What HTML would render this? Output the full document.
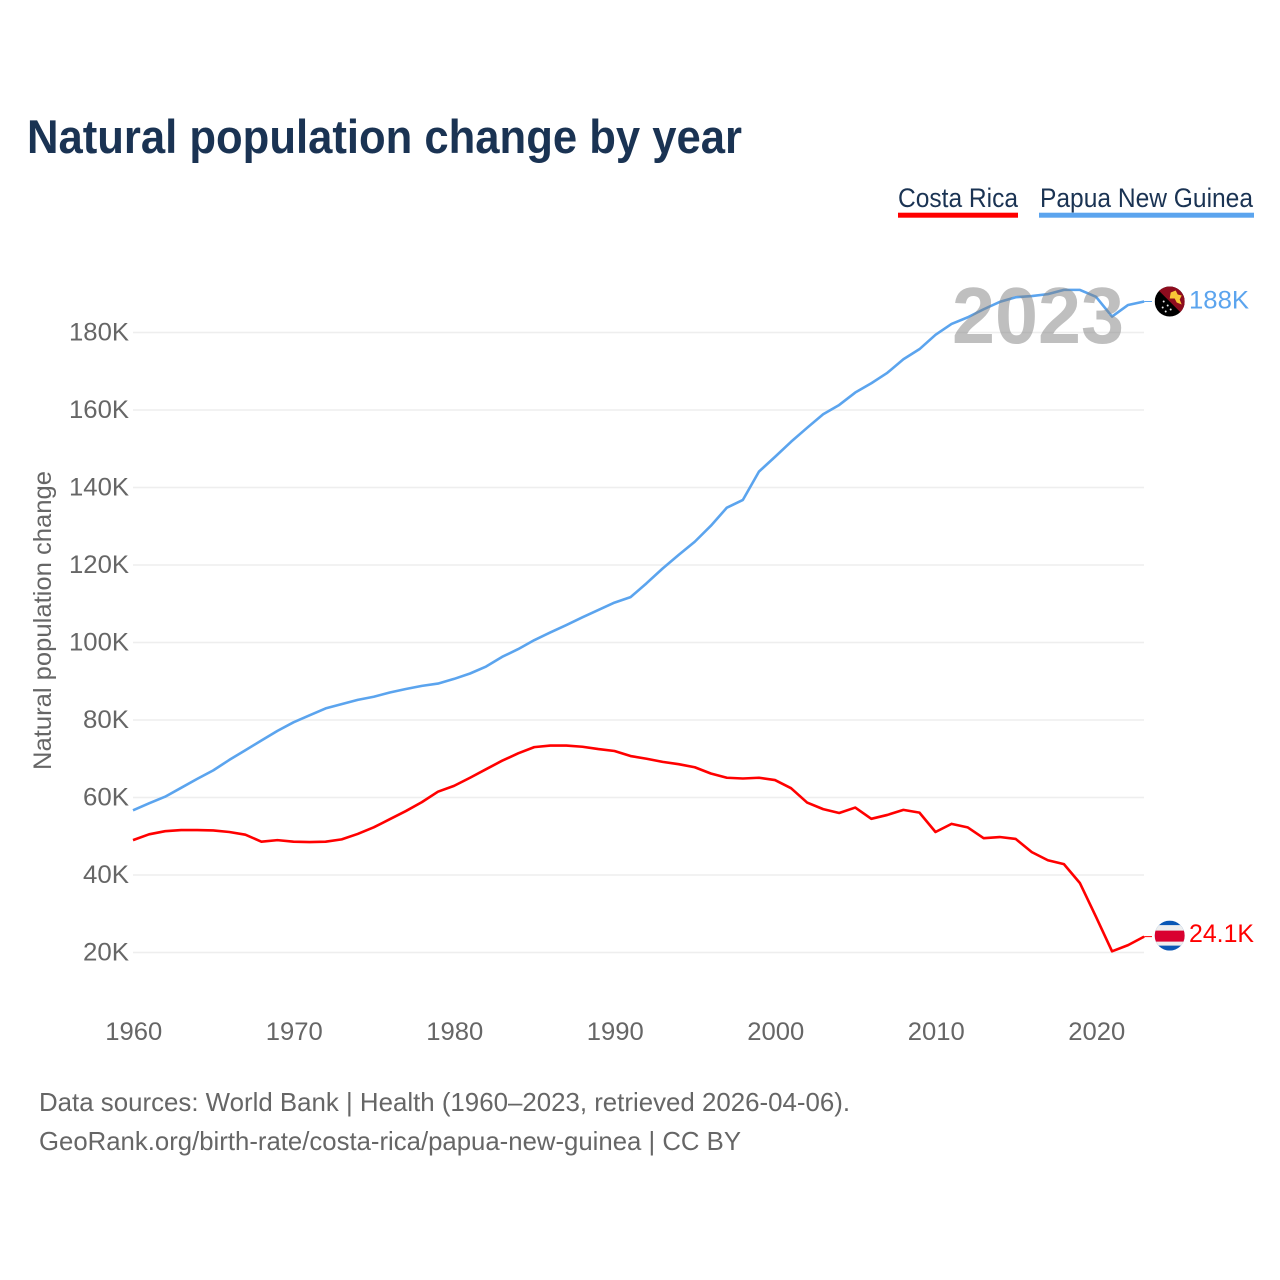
<!DOCTYPE html>
<html lang="en">
<head>
<meta charset="utf-8">
<title>Natural population change by year</title>
<style>
html,body{margin:0;padding:0;background:#fff;width:1280px;height:1280px;overflow:hidden}
svg{display:block}
text{font-family:"Liberation Sans",sans-serif}
</style>
</head>
<body>
<svg id="chart" xmlns="http://www.w3.org/2000/svg" width="1280" height="1280" viewBox="0 0 1280 1280">
  <defs>
    <clipPath id="clip-flag"><circle cx="0" cy="0" r="15"></circle></clipPath>
  </defs>
  <rect width="1280" height="1280" fill="#fff"></rect>
  <text x="27" y="153" font-size="47" font-weight="700" fill="#1a3353" textLength="715" lengthAdjust="spacingAndGlyphs">Natural population change by year</text>

  <g>
    <text x="898" y="207" font-size="27" fill="#1a3353" textLength="120" lengthAdjust="spacingAndGlyphs">Costa Rica</text>
    <rect x="898" y="212.7" width="120" height="5" fill="#ff0000"></rect>
  </g>
  <g>
    <text x="1040" y="207" font-size="27" fill="#1a3353" textLength="213" lengthAdjust="spacingAndGlyphs">Papua New Guinea</text>
    <rect x="1039" y="212.7" width="215" height="5" fill="#5ba4ee"></rect>
  </g>

  <g id="grid"></g>
  <g id="y-ticks"></g>
  <g id="x-ticks"></g>
  <text transform="translate(51,770) rotate(-90)" font-size="25" fill="#666" textLength="299" lengthAdjust="spacingAndGlyphs">Natural population change</text>
  <g id="series"></g>
  <text id="year-watermark" x="952" y="343" font-size="80" font-weight="700" fill="#808080" fill-opacity="0.5" textLength="172" lengthAdjust="spacingAndGlyphs">2023</text>

  <g id="flag-png">
    <g clip-path="url(#clip-flag)">
      <rect x="-15" y="-15" width="30" height="30" fill="#000"></rect>
      <polygon points="-15,-15 15,-15 15,15" fill="#8e0c1e"></polygon>
      <polygon points="1,-9 6,-11 8,-7 12,-6 10,-2 12,3 7,1 5,-3 0,-3" fill="#f8c537"></polygon>
      <circle cx="-6" cy="0" r="1" fill="#eee"></circle>
      <circle cx="-2" cy="4" r="1" fill="#eee"></circle>
      <circle cx="-7" cy="6" r="1" fill="#eee"></circle>
      <circle cx="-4" cy="10" r="1" fill="#eee"></circle>
      <circle cx="1" cy="8" r="1" fill="#eee"></circle>
    </g>
  </g>
  <g id="flag-cr">
    <g clip-path="url(#clip-flag)">
      <rect x="-15" y="-15" width="30" height="30" fill="#0a57b5"></rect>
      <rect x="-15" y="-10.5" width="30" height="20.5" fill="#eeeeee"></rect>
      <rect x="-15" y="-5" width="30" height="11" fill="#d9002f"></rect>
    </g>
  </g>
  <text id="value-png" x="1189" font-size="25" fill="#5ba4ee" textLength="60" lengthAdjust="spacingAndGlyphs">188K</text>
  <text id="value-cr" x="1189" font-size="25" fill="#ff0000" textLength="65" lengthAdjust="spacingAndGlyphs">24.1K</text>

  <text x="39" y="1111" font-size="26" fill="#666" textLength="811" lengthAdjust="spacingAndGlyphs">Data sources: World Bank | Health (1960–2023, retrieved 2026-04-06).</text>
  <text x="39" y="1150" font-size="26" fill="#666" textLength="702" lengthAdjust="spacingAndGlyphs">GeoRank.org/birth-rate/costa-rica/papua-new-guinea | CC BY</text>
</svg>
<script>
const startYear = 1960;
const costaRica = [49.0,50.5,51.3,51.6,51.6,51.5,51.1,50.4,48.6,49.0,48.6,48.5,48.6,49.2,50.6,52.3,54.4,56.5,58.8,61.5,63.0,65.1,67.3,69.5,71.4,73.0,73.4,73.4,73.1,72.5,72.0,70.7,70.0,69.2,68.6,67.8,66.2,65.1,64.9,65.1,64.5,62.4,58.7,57.0,56.0,57.4,54.5,55.5,56.8,56.1,51.1,53.2,52.3,49.5,49.8,49.3,45.9,43.8,42.8,37.9,29.2,20.3,21.9,24.1];
const papuaNewGuinea = [56.7,58.5,60.2,62.5,64.8,67.0,69.7,72.2,74.7,77.2,79.4,81.2,83.0,84.1,85.2,86.0,87.1,88.0,88.8,89.4,90.6,92.0,93.8,96.3,98.3,100.6,102.6,104.5,106.5,108.4,110.3,111.7,115.3,119.1,122.6,126.0,130.1,134.8,136.8,144.1,147.9,151.8,155.4,158.9,161.3,164.5,166.9,169.6,173.1,175.7,179.4,182.2,183.9,186.0,187.9,189.1,189.4,189.9,191.0,191.0,189.2,184.1,187.1,188.0];
const yTickValues = [20,40,60,80,100,120,140,160,180];
const xTickYears = [1960,1970,1980,1990,2000,2010,2020];

const NS = 'http://www.w3.org/2000/svg';
function xScale(year){ return 133 + (year - 1960) * 16.05; }
function yScale(value){ return 952.5 - (value - 20) * 3.875; }

const gridGroup = document.getElementById('grid');
const yTickGroup = document.getElementById('y-ticks');
yTickValues.forEach(function(v){
  const line = document.createElementNS(NS, 'line');
  
  
  line.setAttribute('x1', 133);
  line.setAttribute('x2', 1144);
  line.setAttribute('y1', yScale(v));
  line.setAttribute('y2', yScale(v));
  line.setAttribute('stroke', '#eeeeee');
  line.setAttribute('stroke-width', '1.5');
  gridGroup.appendChild(line);
  const label = document.createElementNS(NS, 'text');
  
  
  label.setAttribute('x', 129);
  label.setAttribute('y', yScale(v) + 8);
  label.setAttribute('text-anchor', 'end');
  label.setAttribute('font-size', '25');
  label.setAttribute('fill', '#666');
  label.setAttribute('textLength', v >= 100 ? 60 : 46);
  label.setAttribute('lengthAdjust', 'spacingAndGlyphs');
  label.textContent = v + 'K';
  yTickGroup.appendChild(label);
});

const xTickGroup = document.getElementById('x-ticks');
xTickYears.forEach(function(y){
  const label = document.createElementNS(NS, 'text');
  
  
  label.setAttribute('x', xScale(y) + 0.8);
  label.setAttribute('y', 1040);
  label.setAttribute('text-anchor', 'middle');
  label.setAttribute('font-size', '25');
  label.setAttribute('fill', '#666');
  label.setAttribute('textLength', 57);
  label.setAttribute('lengthAdjust', 'spacingAndGlyphs');
  label.textContent = y;
  xTickGroup.appendChild(label);
});

function pathFor(values){
  return values.map(function(v, i){
    return (i ? 'L' : 'M') + xScale(startYear + i).toFixed(2) + ' ' + yScale(v).toFixed(2);
  }).join(' ');
}
const seriesGroup = document.getElementById('series');

const crLine = document.createElementNS(NS, 'path');


crLine.setAttribute('d', pathFor(costaRica));
crLine.setAttribute('fill', 'none');
crLine.setAttribute('stroke', '#ff0000');
crLine.setAttribute('stroke-width', '2.6');
crLine.setAttribute('stroke-linejoin', 'round');
seriesGroup.appendChild(crLine);

const pngLine = document.createElementNS(NS, 'path');


pngLine.setAttribute('d', pathFor(papuaNewGuinea));
pngLine.setAttribute('fill', 'none');
pngLine.setAttribute('stroke', '#5ba4ee');
pngLine.setAttribute('stroke-width', '2.6');
pngLine.setAttribute('stroke-linejoin', 'round');
seriesGroup.appendChild(pngLine);

const lastCr = costaRica[costaRica.length - 1];
const lastPng = papuaNewGuinea[papuaNewGuinea.length - 1];
const lastX = xScale(startYear + costaRica.length - 1);

const crTail = document.createElementNS(NS, 'line');


crTail.setAttribute('x1', lastX);
crTail.setAttribute('x2', 1152);
crTail.setAttribute('y1', yScale(lastCr));
crTail.setAttribute('y2', yScale(lastCr));
crTail.setAttribute('stroke', '#ff0000');
crTail.setAttribute('stroke-width', '1');
seriesGroup.appendChild(crTail);

const pngTail = document.createElementNS(NS, 'line');


pngTail.setAttribute('x1', lastX);
pngTail.setAttribute('x2', 1152);
pngTail.setAttribute('y1', yScale(lastPng));
pngTail.setAttribute('y2', yScale(lastPng));
pngTail.setAttribute('stroke', '#5ba4ee');
pngTail.setAttribute('stroke-width', '1');
seriesGroup.appendChild(pngTail);

document.getElementById('flag-png').setAttribute('transform', 'translate(1169.7,' + yScale(lastPng) + ')');
document.getElementById('flag-cr').setAttribute('transform', 'translate(1169.7,' + (yScale(lastCr) - 1) + ')');
document.getElementById('value-png').setAttribute('y', yScale(lastPng) + 7);
document.getElementById('value-cr').setAttribute('y', yScale(lastCr) + 5.5);
</script>
</body>
</html>
